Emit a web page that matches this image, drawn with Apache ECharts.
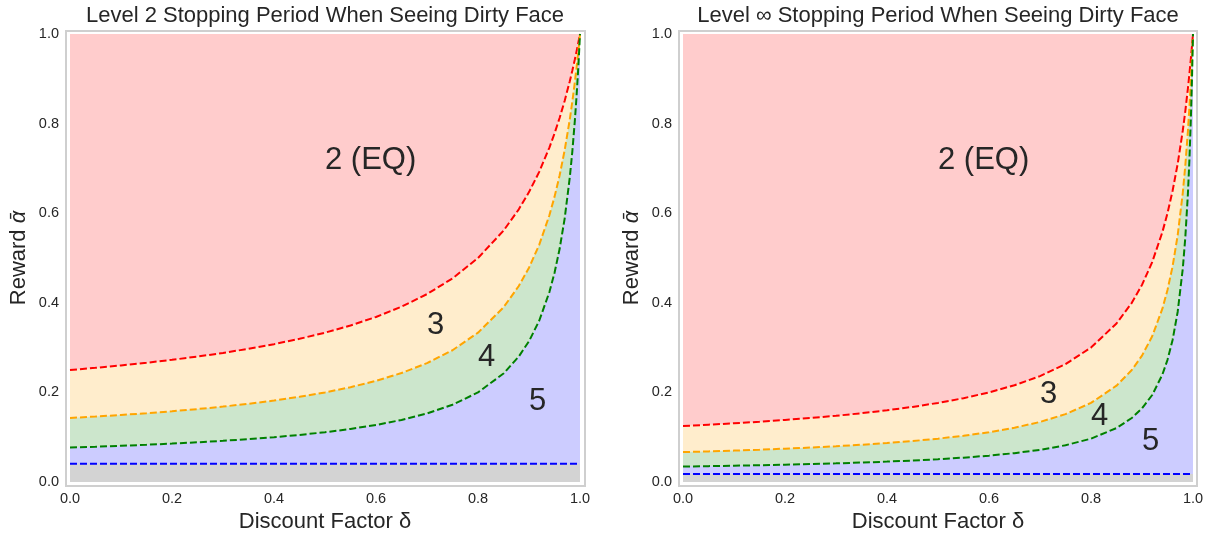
<!DOCTYPE html>
<html>
<head>
<meta charset="utf-8">
<script src="https://cdn.jsdelivr.net/npm/echarts@6/dist/echarts.min.js"></script>
<style>
  html, body { margin: 0; padding: 0; background: #fff; }
  #chart { width: 1210px; height: 535px; }
</style>
</head>
<body>
<div id="chart"></div>
<script>
// discount factor samples (x)
const delta = [0, 0.05, 0.1, 0.15, 0.2, 0.25, 0.3, 0.35, 0.4, 0.45, 0.5, 0.55, 0.6, 0.65, 0.7,
  0.75, 0.8, 0.85, 0.88, 0.9, 0.92, 0.94, 0.95, 0.96, 0.97, 0.98, 0.985, 0.99, 0.993, 0.996, 0.998, 1];

// level 2 boundaries
const l2Red = [0.25, 0.2549, 0.2603, 0.2662, 0.2727, 0.28, 0.2881, 0.2973, 0.3077, 0.3196, 0.3333,
  0.3494, 0.3684, 0.3913, 0.4194, 0.4545, 0.5, 0.561, 0.6087, 0.6471, 0.6923, 0.7465, 0.7778,
  0.8125, 0.8512, 0.8947, 0.9185, 0.9439, 0.96, 0.9767, 0.9882, 1];
const l2Orange = [0.1429, 0.1461, 0.1496, 0.1535, 0.1579, 0.1628, 0.1683, 0.1746, 0.1818, 0.1902,
  0.2, 0.2117, 0.2258, 0.2432, 0.2653, 0.2941, 0.3333, 0.3898, 0.4375, 0.4783, 0.5294, 0.5955,
  0.6364, 0.6842, 0.741, 0.8095, 0.8494, 0.8938, 0.923, 0.9544, 0.9766, 1];
const l2Green = [0.0769, 0.0788, 0.0809, 0.0831, 0.0857, 0.0886, 0.0919, 0.0957, 0.1, 0.1051,
  0.1111, 0.1184, 0.1273, 0.1385, 0.1529, 0.1724, 0.2, 0.2421, 0.28, 0.3143, 0.36, 0.424, 0.4667,
  0.52, 0.5886, 0.68, 0.7382, 0.808, 0.857, 0.9127, 0.9543, 1];

// level infinity boundaries
const lInfRed = [0.125, 0.1279, 0.131, 0.1345, 0.1385, 0.1429, 0.1478, 0.1535, 0.16, 0.1676,
  0.1765, 0.1871, 0.2, 0.216, 0.2364, 0.2632, 0.3, 0.3538, 0.4, 0.44, 0.4909, 0.5579, 0.6, 0.65,
  0.7103, 0.7846, 0.8286, 0.8783, 0.9113, 0.9472, 0.9728, 1];
const lInfOrange = [0.0667, 0.0683, 0.0701, 0.0721, 0.0744, 0.0769, 0.0798, 0.0831, 0.087, 0.0914,
  0.0968, 0.1032, 0.1111, 0.1211, 0.134, 0.1515, 0.1765, 0.215, 0.25, 0.2821, 0.3253, 0.3869,
  0.4286, 0.4815, 0.5508, 0.6456, 0.7073, 0.783, 0.8371, 0.8996, 0.9471, 1];
const lInfGreen = [0.0345, 0.0354, 0.0363, 0.0374, 0.0386, 0.04, 0.0416, 0.0434, 0.0455, 0.0479,
  0.0508, 0.0544, 0.0588, 0.0644, 0.0718, 0.082, 0.0968, 0.1204, 0.1429, 0.1642, 0.1942, 0.2398,
  0.2727, 0.3171, 0.3801, 0.4766, 0.5471, 0.6433, 0.7198, 0.8175, 0.8995, 1];

// flat blue lines
const blueDelta = [0, 1];
const l2Blue = [0.041, 0.041];
const lInfBlue = [0.018, 0.018];

// region labels: text, delta, reward (baseline)
const l2Labels = [['2 (EQ)', 0.5, 0.7], ['3', 0.7, 0.332], ['4', 0.8, 0.26], ['5', 0.9, 0.162]];
const lInfLabels = [['2 (EQ)', 0.5, 0.7], ['3', 0.7, 0.178], ['4', 0.8, 0.129], ['5', 0.9, 0.073]];

const FONT = "'Liberation Sans', Arial, sans-serif";
const TXT = '#262626';
const C = {
  red: '#ff0000', orange: '#ffa500', green: '#008000', blue: '#0000ff',
  fillRed: '#ffcccc', fillOrange: '#ffedcc', fillGreen: '#cce6cc', fillBlue: '#ccccff', fillGrey: '#d3d3d3'
};

function pairs(xs, ys) { return xs.map((x, i) => [x, ys[i]]); }

function areaSeries(idx, xs, ys, color) {
  return {
    type: 'line', xAxisIndex: idx, yAxisIndex: idx,
    data: pairs(xs, ys), symbol: 'none', silent: true,
    lineStyle: { width: 0, opacity: 0 },
    areaStyle: { color: color, opacity: 1, origin: 'start' }
  };
}
function dashSeries(idx, xs, ys, color) {
  return {
    type: 'line', xAxisIndex: idx, yAxisIndex: idx,
    data: pairs(xs, ys), symbol: 'none', silent: true,
    lineStyle: { color: color, width: 2, type: [7, 3] }
  };
}
function labelSeries(idx, labels) {
  return {
    type: 'custom', xAxisIndex: idx, yAxisIndex: idx, silent: true, z: 10,
    data: labels.map(l => [l[1], l[2]]),
    encode: { x: 0, y: 1 },
    renderItem: (params, api) => {
      const pt = api.coord([api.value(0), api.value(1)]);
      return {
        type: 'text', x: pt[0], y: pt[1] - 8,
        style: {
          text: labels[params.dataIndex][0], fill: TXT,
          font: '31px ' + FONT, align: 'left', verticalAlign: 'middle'
        }
      };
    }
  };
}
function panel(idx, red, orange, green, blue, labels) {
  return [
    areaSeries(idx, delta, red, C.fillOrange),
    areaSeries(idx, delta, orange, C.fillGreen),
    areaSeries(idx, delta, green, C.fillBlue),
    areaSeries(idx, blueDelta, blue, C.fillGrey),
    dashSeries(idx, delta, red, C.red),
    dashSeries(idx, delta, orange, C.orange),
    dashSeries(idx, delta, green, C.green),
    dashSeries(idx, blueDelta, blue, C.blue),
    labelSeries(idx, labels)
  ];
}

const axisText = { color: TXT, fontSize: 14.5, fontFamily: FONT };
function xAxis(idx) {
  return {
    type: 'value', gridIndex: idx, min: 0, max: 1, interval: 0.2,
    axisLine: { show: false }, axisTick: { show: false }, splitLine: { show: false },
    axisLabel: Object.assign({ margin: 9, formatter: v => v.toFixed(1) }, axisText),
    name: 'Discount Factor δ', nameLocation: 'middle', nameGap: 29,
    nameTextStyle: { color: TXT, fontSize: 22, fontFamily: FONT }
  };
}
function yAxis(idx) {
  return {
    type: 'value', gridIndex: idx, min: 0, max: 1, interval: 0.2,
    axisLine: { show: false }, axisTick: { show: false }, splitLine: { show: false },
    axisLabel: Object.assign({ margin: 11, formatter: v => v.toFixed(1) }, axisText),
    name: 'Reward {a|ᾱ}', nameLocation: 'middle', nameGap: 40,
    nameTextStyle: {
      color: TXT, fontSize: 22, fontFamily: FONT,
      rich: { a: { fontSize: 22, fontStyle: 'italic', fontFamily: FONT, color: TXT } }
    }
  };
}

const chart = echarts.init(document.getElementById('chart'), null, { renderer: 'canvas' });
chart.setOption({
  animation: false,
  backgroundColor: '#ffffff',
  title: [
    { text: 'Level 2 Stopping Period When Seeing Dirty Face', left: 325, top: 5, textAlign: 'center', padding: 0,
      textStyle: { color: TXT, fontSize: 22, fontWeight: 'normal', fontFamily: FONT } },
    { text: 'Level ∞ Stopping Period When Seeing Dirty Face', left: 938, top: 5, textAlign: 'center', padding: 0,
      textStyle: { color: TXT, fontSize: 22, fontWeight: 'normal', fontFamily: FONT } }
  ],
  grid: [
    { left: 70, top: 34, width: 510, height: 448, show: true, backgroundColor: C.fillRed, borderWidth: 0,
      outerBoundsMode: 'none', containLabel: false },
    { left: 683, top: 34, width: 510, height: 448, show: true, backgroundColor: C.fillRed, borderWidth: 0,
      outerBoundsMode: 'none', containLabel: false }
  ],
  xAxis: [xAxis(0), xAxis(1)],
  yAxis: [yAxis(0), yAxis(1)],
  graphic: [
    { type: 'rect', shape: { x: 66, y: 31, width: 519, height: 455 }, z: 100,
      style: { fill: null, stroke: '#cfcfcf', lineWidth: 2 } },
    { type: 'rect', shape: { x: 679, y: 31, width: 518, height: 455 }, z: 100,
      style: { fill: null, stroke: '#cfcfcf', lineWidth: 2 } }
  ],
  series: panel(0, l2Red, l2Orange, l2Green, l2Blue, l2Labels)
    .concat(panel(1, lInfRed, lInfOrange, lInfGreen, lInfBlue, lInfLabels))
});
</script>
</body>
</html>
